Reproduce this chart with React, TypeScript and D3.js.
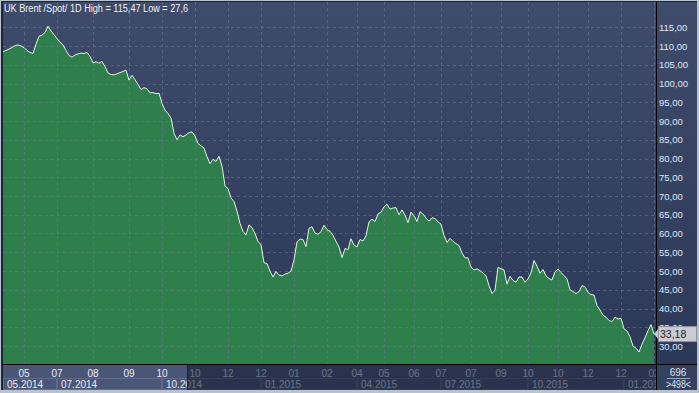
import React from "react";
import * as d3 from "d3";

const values: number[] = [
  108.5, 108.8, 109.2, 109.6, 110.1, 110.3, 110.0, 109.6, 108.8, 108.3,
  108.0, 110.5, 112.6, 112.9, 113.6, 115.3, 114.0, 113.0, 112.0, 111.0,
  110.3, 108.8, 107.5, 107.0, 107.6, 107.9, 108.1, 108.0, 108.3, 107.2,
  105.5, 105.8, 105.4, 105.9, 104.5, 102.8, 102.4, 102.3, 102.6, 102.9,
  103.2, 103.6, 100.9, 102.2, 101.0, 99.8, 98.4, 98.9, 98.6, 97.5,
  97.6, 97.3, 97.4, 94.7, 92.9, 92.0, 90.8, 86.7, 85.0, 86.3,
  85.8, 86.3, 86.9, 87.1, 86.0, 84.0, 83.4, 82.8, 80.5, 78.6,
  79.8, 79.2, 80.6, 78.0, 72.7, 72.0, 69.5, 68.5, 66.0, 62.7,
  60.6, 59.6, 62.3, 61.6, 60.0, 57.9, 57.0, 52.2, 52.0, 50.0,
  48.4, 49.9, 48.9, 48.7, 49.2, 49.4, 50.0, 52.9, 57.8, 58.5,
  58.4, 56.5, 61.4, 61.8, 60.1, 59.8, 60.5, 62.2, 61.0, 60.6,
  59.5, 57.9, 56.4, 53.6, 56.0, 55.7, 58.6, 56.9, 56.4, 58.4,
  58.0, 59.4, 63.1, 63.8, 63.2, 65.2, 65.7, 67.1, 67.8, 66.5,
  66.8, 66.9, 65.0, 66.3, 64.9, 62.9, 65.7, 64.7, 63.2, 65.8,
  65.2, 64.1, 63.3, 64.2, 64.0, 63.1, 62.5, 59.5, 57.6, 58.7,
  57.9, 57.3, 56.8, 54.8, 53.5, 53.5, 51.0, 50.3, 50.6, 50.1,
  49.5, 48.7, 46.1, 44.0, 44.9, 51.0, 50.6, 50.3, 46.5, 48.6,
  47.5, 47.0, 48.4, 48.4, 47.0, 47.9, 49.5, 52.8, 51.3, 49.4,
  50.4, 48.7, 48.0, 47.6, 49.8, 50.5, 49.6, 48.8, 47.9, 45.0,
  44.5, 44.0, 44.5, 46.1, 45.8, 44.3, 43.7, 43.6, 40.8, 39.6,
  38.2, 37.7, 36.8, 36.5, 37.7, 37.2, 37.4, 34.6, 34.0, 32.5,
  30.0, 29.4, 28.4, 30.5, 32.2, 34.1, 35.7, 33.18,
];

const yTickValues: number[] = [30, 35, 40, 45, 50, 55, 60, 65, 70, 75, 80, 85, 90, 95, 100, 105, 110, 115];

const monthTickIdx: number[] = [7, 18, 30, 42, 53, 64, 75, 86, 97, 108, 118, 127, 137, 146, 156, 166, 175, 185, 195, 206, 217];
const monthTickLabels: string[] = ["05", "07", "08", "09", "10", "10", "12", "12", "01", "02", "04", "05", "06", "07", "07", "09", "10", "10", "12", "12", "02"];

const quarterIdx: number[] = [0, 18, 53, 86, 118, 146, 175, 207];
const quarterLabels: string[] = ["05.2014", "07.2014", "10.2014", "01.2015", "04.2015", "07.2015", "10.2015", "01.2016"];

const titleText = "UK Brent /Spot/ 1D High = 115,47 Low = 27,6";
const lastValue = 33.18;
const barCount = "696";
const visibleCount = ">498<";

const W = 699;
const H = 393;
const plotL = 3;
const plotR = 656;
const plotT = 2;
const plotB = 364;
const bandB = 390;
const font = "'Liberation Sans', Arial, sans-serif";

const fmt = (v: number) => v.toFixed(2).replace(".", ",");

export default function App() {
  const x = d3.scaleLinear().domain([0, values.length - 1]).range([plotL, plotR - 2]);
  const y = d3.scaleLinear().domain([30, 115]).range([346, 27.25]);

  const area = d3
    .area<number>()
    .x((_, i) => x(i))
    .y0(plotB)
    .y1((d) => y(d));
  const line = d3
    .line<number>()
    .x((_, i) => x(i))
    .y((d) => y(d));

  const lastY = y(lastValue);
  const thumbR = 187;

  return (
    <svg width={W} height={H} style={{ display: "block", position: "absolute", left: 0, top: 0 }}>
      <defs>
        <linearGradient id="bg" x1="0" y1="0" x2="0" y2="1">
          <stop offset="0" stopColor="#3e4b6b" />
          <stop offset="1" stopColor="#2c3857" />
        </linearGradient>
        <clipPath id="plotClip">
          <rect x={plotL} y={plotT} width={plotR - plotL} height={plotB - plotT} />
        </clipPath>
        <clipPath id="bandClip">
          <rect x={plotL} y={plotB} width={plotR - plotL} height={bandB - plotB} />
        </clipPath>
      </defs>
      {/* outer frame */}
      <rect x={0} y={0} width={W} height={H} fill="#b9c2cf" />
      <rect x={1} y={1} width={W - 3} height={bandB - 1} fill="#1e2336" />
      {/* plot background */}
      <rect x={plotL} y={plotT} width={plotR - plotL} height={plotB - plotT} fill="url(#bg)" />
      <rect x={plotR + 1} y={plotT} width={W - 3 - plotR} height={plotB - plotT} fill="url(#bg)" />

      {/* area */}
      <g clipPath="url(#plotClip)">
        <path d={area(values) || ""} fill="#2e7f4c" />
        {yTickValues.map((v) => (
          <line key={"h" + v} x1={plotL} x2={plotR} y1={Math.round(y(v)) + 0.5} y2={Math.round(y(v)) + 0.5}
            stroke="#6a7896" strokeOpacity={0.55} strokeDasharray="3,3" />
        ))}
        {monthTickIdx.map((idx, i) => (
          <line key={"v" + i} x1={Math.round(x(idx)) + 0.5} x2={Math.round(x(idx)) + 0.5} y1={plotT} y2={plotB}
            stroke="#6a7896" strokeOpacity={0.55} strokeDasharray="3,3" />
        ))}
        <path d={line(values) || ""} fill="none" stroke="#e2fadc" strokeWidth={1} />
      </g>

      {/* title */}
      <text x={4} y={12} fontFamily={font} fontSize={10} fill="#eef2fa" textLength={184} lengthAdjust="spacingAndGlyphs">{titleText}</text>

      {/* bottom band */}
      <rect x={plotL} y={plotB + 1} width={plotR - plotL} height={bandB - plotB - 1} fill="#4a5676" />
      <rect x={plotR + 1} y={plotB + 1} width={W - 3 - plotR} height={bandB - plotB - 1} fill="#34405e" />
      <g clipPath="url(#bandClip)">
        {quarterIdx.map((idx, i) => {
          const x0 = i === 0 ? plotL : Math.round(x(idx));
          const x1 = i < quarterIdx.length - 1 ? Math.round(x(quarterIdx[i + 1])) : plotR + 4;
          return (
            <g key={"q" + i}>
              <rect x={x0 + 0.5} y={378.5} width={x1 - x0 - 1} height={11} fill="none" stroke="#5f6b89" />
              <text x={x0 + 4} y={387.5} fontFamily={font} fontSize={10} fill="#e8eef8">{quarterLabels[i]}</text>
            </g>
          );
        })}
        {monthTickIdx.map((idx, i) => (
          <text key={"m" + i} x={x(idx)} y={376.5} textAnchor="middle" fontFamily={font} fontSize={10} fill="#e8eef8">
            {monthTickLabels[i]}
          </text>
        ))}
      </g>
      {/* navigator dim overlay */}
      <rect x={thumbR} y={plotB + 1} width={plotR - thumbR} height={bandB - plotB - 1} fill="#141c33" fillOpacity={0.6} />
      <line x1={thumbR + 0.5} x2={thumbR + 0.5} y1={plotB + 1} y2={bandB} stroke="#1a2238" />

      {/* separators */}
      <line x1={plotL - 1} x2={W - 2} y1={plotB + 0.5} y2={plotB + 0.5} stroke="#000" />
      <line x1={plotR + 0.5} x2={plotR + 0.5} y1={plotT} y2={bandB} stroke="#000" />
      <line x1={1.5} x2={1.5} y1={1} y2={bandB} stroke="#20283c" />

      {/* right axis labels */}
      {yTickValues.map((v) => (
        <text key={"yl" + v} x={659} y={y(v) + 3.6} fontFamily={font} fontSize={9.5} fill="#dfe8f8">
          {fmt(v)}
        </text>
      ))}

      {/* last value marker */}
      <path d={`M${plotR - 2},${lastY} L${plotR + 3},${lastY - 6} L${plotR + 3},${lastY + 6} Z`} fill="#c9ccd3" />
      <rect x={plotR + 2.5} y={lastY - 7.5} width={38} height={15} fill="#c9ccd3" stroke="#8e939c" />
      <text x={plotR + 4} y={lastY + 3.8} fontFamily={font} fontSize={10.5} fill="#1b1f2a">{fmt(lastValue)}</text>

      {/* bottom right counter */}
      <text x={678} y={376} textAnchor="middle" fontFamily={font} fontSize={10} fill="#d8e4f8">{barCount}</text>
      <line x1={667} x2={690} y1={378.5} y2={378.5} stroke="#9aa8c4" />
      <text x={666} y={388} fontFamily={font} fontSize={10.5} fill="#d8e4f8" textLength={25} lengthAdjust="spacingAndGlyphs">{visibleCount}</text>
    </svg>
  );
}
